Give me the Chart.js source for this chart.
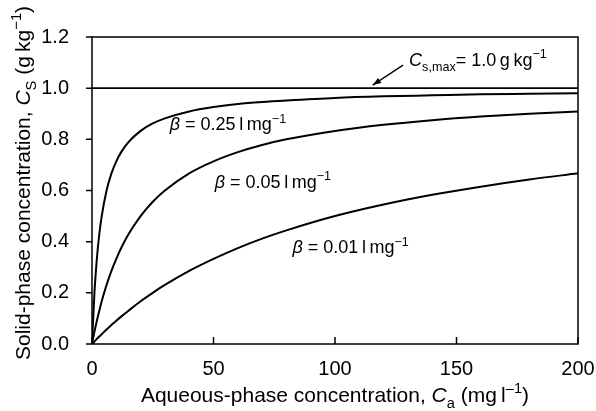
<!DOCTYPE html>
<html>
<head>
<meta charset="UTF-8">
<title>Langmuir isotherms</title>
<script src="https://cdn.jsdelivr.net/npm/chart.js@4/dist/chart.umd.min.js"></script>
<style>
  html, body { margin: 0; padding: 0; background: #fff; }
  #holder { width: 596px; height: 411px; }
</style>
</head>
<body>
<div id="holder"><canvas id="chart-area" width="596" height="411"></canvas></div>
<script>
// aqueous-phase concentration Ca (mg/l)
var caValues = [0, 1, 2, 3, 4, 6, 8, 10, 12, 15, 20, 25, 30, 40, 50, 60, 70, 80, 100, 120, 140, 160, 180, 200];
// solid-phase concentration Cs (g/kg) for each beta
var beta025 = [0, 0.200, 0.333, 0.429, 0.500, 0.600, 0.667, 0.714, 0.750, 0.789, 0.833, 0.862, 0.882, 0.909, 0.926, 0.938, 0.946, 0.952, 0.962, 0.968, 0.972, 0.976, 0.978, 0.980];
var beta005 = [0, 0.048, 0.091, 0.130, 0.167, 0.231, 0.286, 0.333, 0.375, 0.429, 0.500, 0.556, 0.600, 0.667, 0.714, 0.750, 0.778, 0.800, 0.833, 0.857, 0.875, 0.889, 0.900, 0.909];
var beta001 = [0, 0.010, 0.020, 0.029, 0.038, 0.057, 0.074, 0.091, 0.107, 0.130, 0.167, 0.200, 0.231, 0.286, 0.333, 0.375, 0.412, 0.444, 0.500, 0.545, 0.583, 0.615, 0.643, 0.667];
var csMax = 1.0;
var xTicks = [0, 50, 100, 150, 200];
var yTicks = [0, 0.2, 0.4, 0.6, 0.8, 1.0, 1.2];

var FONT = '"Liberation Sans", Arial, Helvetica, sans-serif';

function pts(ys) {
  return caValues.map(function (x, i) { return { x: x, y: ys[i] }; });
}

function curve(ys) {
  return {
    data: pts(ys),
    borderColor: '#000',
    borderWidth: 2,
    pointRadius: 0,
    fill: false,
    cubicInterpolationMode: 'monotone'
  };
}

// draw a run of text pieces: {t, it (italic), d: 'sub'|'sup'}
function richText(ctx, parts, x, y, size, align) {
  function fontOf(p) {
    var s = p.d ? size * 0.7 : size;
    return (p.it ? 'italic ' : '') + s + 'px ' + FONT;
  }
  var total = 0;
  parts.forEach(function (p) { ctx.font = fontOf(p); total += ctx.measureText(p.t).width; });
  var cx = align === 'center' ? x - total / 2 : x;
  ctx.textBaseline = 'alphabetic';
  ctx.textAlign = 'left';
  parts.forEach(function (p) {
    ctx.font = fontOf(p);
    var dy = p.d === 'sub' ? size * 0.3 : (p.d === 'sup' ? -size * 0.42 : 0);
    ctx.fillText(p.t, cx, y + dy);
    cx += ctx.measureText(p.t).width;
  });
}

var decorations = {
  id: 'decorations',
  afterDraw: function (chart) {
    var ctx = chart.ctx, a = chart.chartArea;
    var xs = chart.scales.x, ys = chart.scales.y;
    ctx.save();
    ctx.strokeStyle = '#000';
    ctx.fillStyle = '#000';
    ctx.lineWidth = 1.5;
    ctx.strokeRect(a.left, a.top, a.right - a.left, a.bottom - a.top);

    // y ticks point outward, x ticks point inward
    ctx.beginPath();
    yTicks.forEach(function (v) {
      var py = ys.getPixelForValue(v);
      ctx.moveTo(a.left - 6, py); ctx.lineTo(a.left, py);
    });
    xTicks.forEach(function (v) {
      var px = xs.getPixelForValue(v);
      ctx.moveTo(px, a.bottom); ctx.lineTo(px, a.bottom - 7);
    });
    ctx.stroke();

    // x tick labels
    ctx.font = '20px ' + FONT;
    ctx.textAlign = 'center';
    ctx.textBaseline = 'alphabetic';
    xTicks.forEach(function (v) {
      ctx.fillText(String(v), xs.getPixelForValue(v), a.bottom + 31);
    });

    // axis titles
    richText(ctx, [
      { t: 'Aqueous-phase concentration, ' }, { t: 'C', it: true }, { t: 'a', d: 'sub' },
      { t: ' (mg\u2009l' }, { t: '\u20131', d: 'sup' }, { t: ')' }
    ], (a.left + a.right) / 2, 402, 21, 'center');

    ctx.save();
    ctx.translate(30, 183);
    ctx.rotate(-Math.PI / 2);
    richText(ctx, [
      { t: 'Solid-phase concentration, ' }, { t: 'C', it: true }, { t: 'S', d: 'sub' },
      { t: ' (g\u2009kg' }, { t: '\u22121', d: 'sup' }, { t: ')' }
    ], 0, 0, 21, 'center');
    ctx.restore();

    // curve labels
    function lbl(parts, xv, yv) {
      richText(ctx, parts, xs.getPixelForValue(xv), ys.getPixelForValue(yv), 18, 'left');
    }
    lbl([{ t: '\u03b2', it: true }, { t: ' = 0.25\u2009l\u2009mg' }, { t: '\u22121', d: 'sup' }], 32, 0.835);
    lbl([{ t: '\u03b2', it: true }, { t: ' = 0.05\u2009l\u2009mg' }, { t: '\u22121', d: 'sup' }], 50.5, 0.61);
    lbl([{ t: '\u03b2', it: true }, { t: ' = 0.01\u2009l\u2009mg' }, { t: '\u22121', d: 'sup' }], 82.5, 0.355);
    lbl([{ t: 'C', it: true }, { t: 's,max', d: 'sub' }, { t: '= 1.0\u2009g\u2009kg' }, { t: '\u22121', d: 'sup' }], 130.5, 1.088);

    // arrow pointing at the Cs,max line
    var x1 = xs.getPixelForValue(128), y1 = ys.getPixelForValue(1.09);
    var x2 = xs.getPixelForValue(115.5), y2 = ys.getPixelForValue(1.012);
    ctx.lineWidth = 1.3;
    ctx.beginPath(); ctx.moveTo(x1, y1); ctx.lineTo(x2, y2); ctx.stroke();
    var ang = Math.atan2(y2 - y1, x2 - x1);
    ctx.beginPath();
    ctx.moveTo(x2, y2);
    ctx.lineTo(x2 - 9 * Math.cos(ang - 0.35), y2 - 9 * Math.sin(ang - 0.35));
    ctx.lineTo(x2 - 9 * Math.cos(ang + 0.35), y2 - 9 * Math.sin(ang + 0.35));
    ctx.closePath(); ctx.fill();
    ctx.restore();
  }
};

var config = {
  type: 'line',
  data: {
    datasets: [
      curve(beta025),
      curve(beta005),
      curve(beta001),
      {
        data: [{ x: 0, y: csMax }, { x: 200, y: csMax }],
        borderColor: '#000',
        borderWidth: 1.6,
        pointRadius: 0,
        fill: false
      }
    ]
  },
  options: {
    responsive: false,
    animation: false,
    layout: { padding: { left: 0, right: 18, top: 37, bottom: 0 } },
    plugins: { legend: { display: false }, tooltip: { enabled: false } },
    scales: {
      x: {
        type: 'linear', min: 0, max: 200,
        afterFit: function (s) { s.height = 67; },
        grid: { display: false }, border: { display: false },
        ticks: { display: false }
      },
      y: {
        min: 0, max: 1.2,
        afterBuildTicks: function (s) { s.ticks = yTicks.map(function (v) { return { value: v }; }); },
        afterFit: function (s) { s.width = 92; },
        grid: { display: false }, border: { display: false },
        ticks: {
          color: '#000', padding: 15, font: { family: FONT, size: 20 },
          callback: function (v) { return Number(v).toFixed(1); }
        }
      }
    }
  },
  plugins: [decorations]
};

window.onload = function () {
  var ctx = document.getElementById('chart-area').getContext('2d');
  window.myLine = new Chart(ctx, config);
};
</script>
</body>
</html>
